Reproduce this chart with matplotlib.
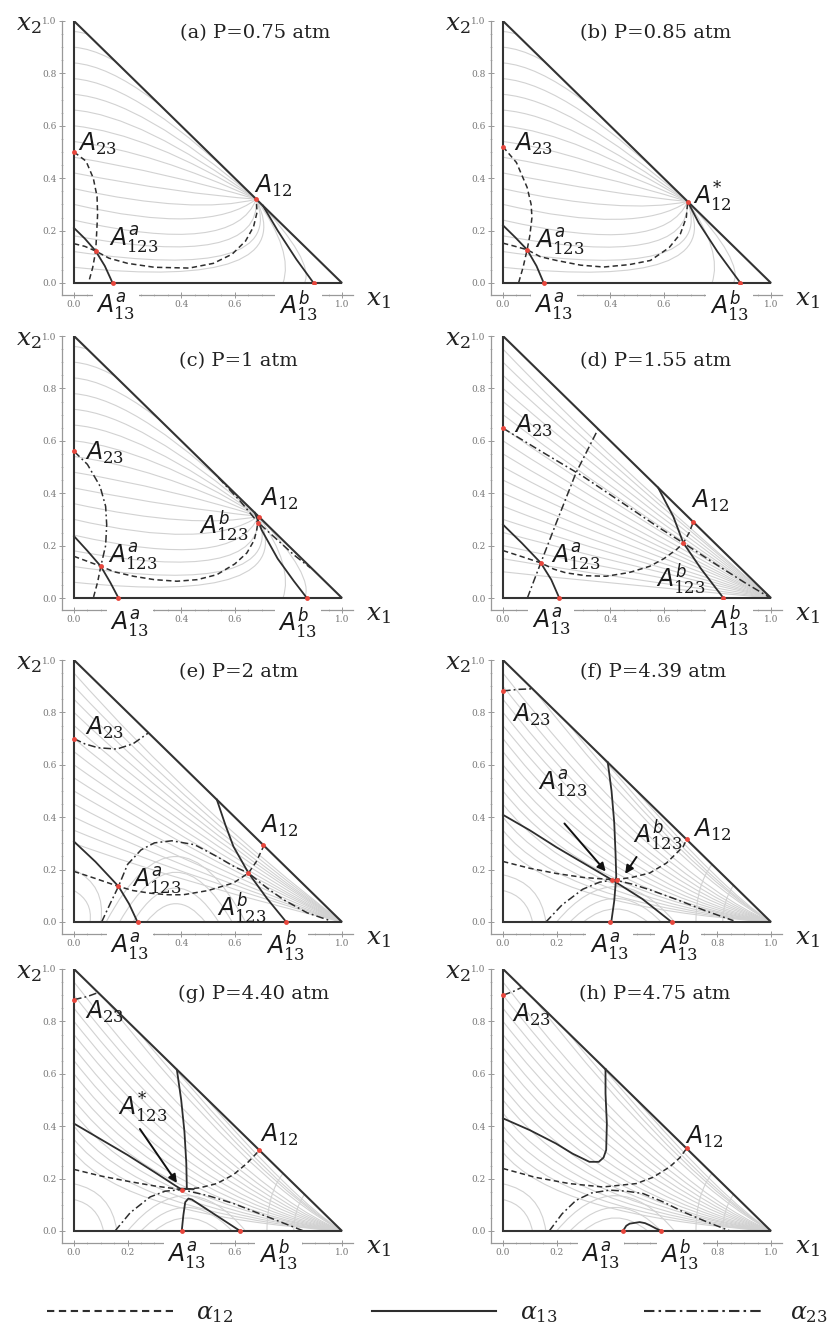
import numpy as np
import matplotlib
matplotlib.use("Agg")
import matplotlib.pyplot as plt
from matplotlib.path import Path
from matplotlib.patches import PathPatch, Polygon
from matplotlib.ticker import MultipleLocator

plt.rcParams['mathtext.fontset'] = 'custom'
plt.rcParams['mathtext.it'] = 'DejaVu Sans:italic'
plt.rcParams['mathtext.rm'] = 'DejaVu Serif'

# ---- label strings ----
A23 = r'$A_{23}$'
A12 = r'$A_{12}$'
A12s = r'$A_{12}^{*}$'
A123a = r'$A_{123}^{a}$'
A123b = r'$A_{123}^{b}$'
A123s = r'$A_{123}^{*}$'
A13a = r'$A_{13}^{a}$'
A13b = r'$A_{13}^{b}$'

titles = ['(a) P=0.75 atm', '(b) P=0.85 atm', '(c) P=1 atm', '(d) P=1.55 atm',
          '(e) P=2 atm', '(f) P=4.39 atm', '(g) P=4.40 atm', '(h) P=4.75 atm']
title_pos = [(0.675, 0.955), (0.571, 0.955), (0.614, 0.904), (0.570, 0.904),
             (0.614, 0.955), (0.560, 0.955), (0.672, 0.905), (0.567, 0.904)]
# x tick labels left visible (others sit under the A13 labels)
xtick_shown = [[0.0, 0.4, 0.6, 1.0]] * 5 + [[0.0, 0.2, 0.8, 1.0], [0.0, 0.2, 0.6, 1.0], [0.0, 0.2, 0.8, 1.0]]

# ---- (a) P=0.75 ----
dash_a = [[(0, 0.50), (0.045, 0.465), (0.072, 0.40), (0.086, 0.33), (0.088, 0.26), (0.085, 0.20),
           (0.081, 0.122), (0.07, 0.06), (0.054, 0.0)],
          [(0, 0.15), (0.04, 0.14), (0.081, 0.122), (0.13, 0.095), (0.2, 0.075), (0.3, 0.06),
           (0.43, 0.057), (0.52, 0.075), (0.59, 0.11), (0.64, 0.16), (0.67, 0.215), (0.683, 0.27), (0.68, 0.32)]]
solid_a = [[(0, 0.21), (0.04, 0.17), (0.081, 0.122), (0.115, 0.065), (0.144, 0.0)],
           [(0.705, 0.295), (0.76, 0.2), (0.83, 0.09), (0.894, 0.0)]]
dashdot_a = []
pts_a = [(0, 0.50), (0.68, 0.32), (0.081, 0.122), (0.144, 0), (0.894, 0)]
labels_a = [(A23, 0.015, 0.53, 'left'), (A12, 0.67, 0.37, 'left'), (A123a, 0.13, 0.165, 'left')]
axlab_a = [(A13a, 0.156, -0.09), (A13b, 0.838, -0.09)]

# ---- (b) P=0.85 ----
dash_b = [[(0, 0.52), (0.05, 0.46), (0.09, 0.365), (0.105, 0.30), (0.108, 0.25), (0.1, 0.18),
           (0.09, 0.127), (0.075, 0.06), (0.058, 0.0)],
          [(0, 0.152), (0.045, 0.14), (0.09, 0.127), (0.14, 0.10), (0.2, 0.086), (0.29, 0.068),
           (0.376, 0.061), (0.47, 0.07), (0.55, 0.086), (0.62, 0.135), (0.662, 0.188), (0.684, 0.25), (0.689, 0.311)]]
solid_b = [[(0, 0.22), (0.045, 0.175), (0.09, 0.127), (0.125, 0.065), (0.152, 0.0)],
           [(0.689, 0.311), (0.73, 0.23), (0.80, 0.12), (0.886, 0.0)]]
dashdot_b = []
pts_b = [(0, 0.52), (0.689, 0.311), (0.09, 0.127), (0.152, 0), (0.886, 0)]
labels_b = [(A23, 0.04, 0.53, 'left'), (A12s, 0.71, 0.33, 'left'), (A123a, 0.12, 0.16, 'left')]
axlab_b = [(A13a, 0.189, -0.09), (A13b, 0.845, -0.09)]

# ---- (c) P=1 ----
dash_c = [[(0.10, 0.121), (0.088, 0.06), (0.072, 0.0)],
          [(0, 0.159), (0.05, 0.14), (0.10, 0.121), (0.15, 0.10), (0.222, 0.083), (0.30, 0.07),
           (0.384, 0.064), (0.46, 0.07), (0.533, 0.089), (0.6, 0.13), (0.645, 0.172), (0.672, 0.22),
           (0.682, 0.261), (0.689, 0.312)]]
solid_c = [[(0, 0.236), (0.05, 0.18), (0.10, 0.121), (0.135, 0.06), (0.166, 0.0)],
           [(0.675, 0.325), (0.70, 0.26), (0.76, 0.15), (0.82, 0.065), (0.869, 0.0)]]
dashdot_c = [[(0, 0.56), (0.05, 0.51), (0.097, 0.427), (0.118, 0.35), (0.122, 0.28), (0.118, 0.20), (0.10, 0.121)],
             [(0.539, 0.459), (0.62, 0.37), (0.685, 0.29), (0.75, 0.23), (0.82, 0.165), (0.882, 0.115)]]
pts_c = [(0, 0.56), (0.689, 0.311), (0.685, 0.285), (0.10, 0.121), (0.166, 0), (0.869, 0)]
labels_c = [(A23, 0.04, 0.554, 'left'), (A12, 0.695, 0.38, 'left'), (A123b, 0.651, 0.274, 'right'),
            (A123a, 0.128, 0.16, 'left')]
axlab_c = [(A13a, 0.209, -0.096), (A13b, 0.836, -0.096)]

# ---- (d) P=1.55 ----
dash_d = [[(0, 0.181), (0.07, 0.158), (0.141, 0.134), (0.19, 0.11), (0.235, 0.096), (0.31, 0.085),
           (0.385, 0.083), (0.47, 0.097), (0.5475, 0.121), (0.6, 0.15), (0.6475, 0.185), (0.673, 0.21),
           (0.695, 0.25), (0.71, 0.29)]]
solid_d = [[(0, 0.28), (0.07, 0.21), (0.141, 0.134), (0.18, 0.07), (0.21, 0.0)],
           [(0.579, 0.421), (0.61, 0.36), (0.635, 0.312), (0.673, 0.21), (0.74, 0.11), (0.8225, 0.0)]]
dashdot_d = [[(0, 0.648), (0.15, 0.555), (0.2975, 0.465), (0.45, 0.36), (0.58, 0.27), (0.673, 0.21),
              (0.8, 0.125), (0.9, 0.06), (0.99, 0.005)],
             [(0.091, 0), (0.115, 0.065), (0.141, 0.134), (0.2, 0.29), (0.2725, 0.478), (0.354, 0.643)]]
pts_d = [(0, 0.648), (0.71, 0.29), (0.673, 0.21), (0.141, 0.134), (0.21, 0), (0.8225, 0)]
labels_d = [(A23, 0.041, 0.656, 'left'), (A12, 0.70, 0.37, 'left'), (A123b, 0.57, 0.07, 'left'),
            (A123a, 0.18, 0.16, 'left')]
axlab_d = [(A13a, 0.18, -0.09), (A13b, 0.845, -0.09)]

# ---- (e) P=2 ----
dash_e = [[(0, 0.193), (0.08, 0.166), (0.166, 0.136), (0.22, 0.12), (0.284, 0.11), (0.35, 0.104),
           (0.408, 0.104), (0.5, 0.12), (0.595, 0.149), (0.651, 0.187), (0.68, 0.23), (0.707, 0.288)]]
solid_e = [[(0, 0.307), (0.08, 0.23), (0.166, 0.136), (0.205, 0.07), (0.237, 0.0)],
           [(0.533, 0.467), (0.565, 0.37), (0.595, 0.288), (0.651, 0.187), (0.72, 0.09), (0.792, 0.0)]]
dashdot_e = [[(0, 0.70), (0.04, 0.68), (0.09, 0.665), (0.16, 0.66), (0.22, 0.68), (0.278, 0.722)],
             [(0.103, 0), (0.135, 0.07), (0.166, 0.136), (0.2, 0.22), (0.25, 0.275), (0.3, 0.302),
              (0.365, 0.31), (0.45, 0.295), (0.533, 0.25), (0.6, 0.21), (0.651, 0.187), (0.72, 0.13),
              (0.782, 0.085), (0.87, 0.035), (0.956, 0.005)]]
pts_e = [(0, 0.70), (0.707, 0.293), (0.651, 0.187), (0.166, 0.136), (0.237, 0), (0.792, 0)]
labels_e = [(A23, 0.041, 0.74, 'left'), (A12, 0.695, 0.365, 'left'), (A123b, 0.533, 0.053, 'left'),
            (A123a, 0.215, 0.16, 'left')]
axlab_e = [(A13a, 0.209, -0.093), (A13b, 0.788, -0.093)]

# ---- (f) P=4.39 ----
dash_f = [[(0, 0.231), (0.1, 0.205), (0.2, 0.185), (0.3, 0.17), (0.416, 0.161), (0.48, 0.17),
           (0.5475, 0.187), (0.61, 0.225), (0.6725, 0.288), (0.685, 0.315)]]
solid_f = [[(0, 0.409), (0.1, 0.35), (0.2, 0.285), (0.3, 0.225), (0.416, 0.155), (0.52, 0.088), (0.629, 0.0)],
           [(0.391, 0.609), (0.405, 0.5), (0.415, 0.38), (0.42, 0.26), (0.4225, 0.174), (0.415, 0.08), (0.404, 0.0)]]
dashdot_f = [[(0, 0.882), (0.06, 0.888), (0.11, 0.89)],
             [(0.16, 0), (0.22, 0.065), (0.2975, 0.125), (0.36, 0.152), (0.416, 0.161), (0.48, 0.145),
              (0.5475, 0.123), (0.65, 0.085), (0.75, 0.045), (0.86, 0.005)]]
pts_f = [(0, 0.882), (0.685, 0.315), (0.408, 0.161), (0.425, 0.161), (0.40, 0), (0.629, 0)]
labels_f = [(A23, 0.035, 0.79, 'left'), (A12, 0.71, 0.352, 'left'), (A123a, 0.13, 0.53, 'left'),
            (A123b, 0.485, 0.33, 'left')]
axlab_f = [(A13a, 0.3975, -0.093), (A13b, 0.654, -0.093)]
arrows_f = [((0.2225, 0.384), (0.39, 0.185)), ((0.504, 0.257), (0.45, 0.175))]

# ---- (g) P=4.40 ----
dash_g = [[(0, 0.235), (0.1, 0.21), (0.2, 0.19), (0.3, 0.172), (0.402, 0.158), (0.47, 0.165),
           (0.533, 0.181), (0.595, 0.215), (0.645, 0.258), (0.689, 0.305)]]
solid_g = [[(0, 0.41), (0.1, 0.35), (0.2, 0.29), (0.3, 0.225), (0.38, 0.172), (0.396, 0.162), (0.446, 0.16)],
           [(0.384, 0.615), (0.40, 0.5), (0.412, 0.38), (0.419, 0.26), (0.421, 0.165)],
           [(0.402, 0), (0.408, 0.06), (0.415, 0.11), (0.427, 0.124), (0.44, 0.12), (0.53, 0.06), (0.62, 0.0)]]
dashdot_g = [[(0, 0.883), (0.05, 0.895), (0.09, 0.91)],
             [(0.153, 0), (0.21, 0.07), (0.284, 0.13), (0.34, 0.152), (0.402, 0.158), (0.5, 0.135),
              (0.595, 0.105), (0.72, 0.055), (0.857, 0.0)]]
pts_g = [(0, 0.883), (0.689, 0.311), (0.402, 0.158), (0.402, 0), (0.62, 0)]
labels_g = [(A23, 0.041, 0.838, 'left'), (A12, 0.695, 0.366, 'left'), (A123s, 0.165, 0.47, 'left')]
axlab_g = [(A13a, 0.421, -0.093), (A13b, 0.763, -0.093)]
arrows_g = [((0.24, 0.398), (0.39, 0.175))]

# ---- (h) P=4.75 ----
dash_h = [[(0, 0.2385), (0.12, 0.205), (0.2475, 0.181), (0.3725, 0.168), (0.4975, 0.181), (0.56, 0.205),
           (0.6225, 0.245), (0.66, 0.28), (0.685, 0.315)]]
solid_h = [[(0, 0.43), (0.1, 0.385), (0.1975, 0.334), (0.26, 0.295), (0.3225, 0.264), (0.3575, 0.264),
            (0.375, 0.28), (0.385, 0.309), (0.3875, 0.41), (0.3825, 0.525), (0.3825, 0.618)],
           [(0.4475, 0), (0.46, 0.02), (0.4725, 0.028), (0.51, 0.034), (0.53, 0.03), (0.5475, 0.022),
            (0.57, 0.01), (0.591, 0)]]
dashdot_h = [[(0, 0.90), (0.04, 0.915), (0.07, 0.93)],
             [(0.1725, 0), (0.22, 0.065), (0.2725, 0.117), (0.33, 0.145), (0.3975, 0.156), (0.46, 0.152),
              (0.5225, 0.143), (0.6, 0.11), (0.6725, 0.073), (0.76, 0.035), (0.8475, 0.0)]]
pts_h = [(0, 0.90), (0.685, 0.315), (0.4475, 0), (0.591, 0)]
labels_h = [(A23, 0.035, 0.825, 'left'), (A12, 0.68, 0.36, 'left')]
axlab_h = [(A13a, 0.366, -0.093), (A13b, 0.66, -0.093)]

# ---- grey residue curves: (x0, y0, ctrl_x, ctrl_y) ending at a node ----
gray_abc = [(0, 0.96, 0.25, 0.94), (0, 0.90, 0.25, 0.88), (0, 0.84, 0.25, 0.82), (0, 0.78, 0.25, 0.76),
            (0, 0.72, 0.25, 0.70), (0, 0.66, 0.25, 0.64), (0, 0.60, 0.28, 0.57), (0, 0.54, 0.30, 0.50),
            (0, 0.48, 0.35, 0.42), (0, 0.42, 0.40, 0.34), (0, 0.36, 0.45, 0.26), (0, 0.30, 0.50, 0.18),
            (0, 0.24, 0.60, 0.10), (0, 0.18, 0.70, 0.05), (0, 0.12, 0.80, 0.0), (0, 0.06, 0.85, -0.03),
            (0.78, 0, 0.82, 0.12), (0.86, 0, 0.90, 0.08)]
gray_d = [(0, 0.95, 0.4, 0.52), (0, 0.90, 0.4, 0.50), (0, 0.85, 0.4, 0.47), (0, 0.80, 0.4, 0.44),
          (0, 0.75, 0.4, 0.41), (0, 0.70, 0.4, 0.385), (0, 0.65, 0.4, 0.36), (0, 0.60, 0.4, 0.33),
          (0, 0.55, 0.4, 0.30), (0, 0.50, 0.4, 0.275), (0, 0.45, 0.4, 0.25), (0, 0.40, 0.4, 0.22),
          (0, 0.35, 0.4, 0.19), (0, 0.30, 0.4, 0.165), (0, 0.25, 0.4, 0.14), (0, 0.20, 0.4, 0.11),
          (0, 0.15, 0.4, 0.08), (0, 0.10, 0.4, 0.055)]
gray_e = [(0, 0.95, 0.45, 0.43), (0, 0.90, 0.45, 0.405), (0, 0.85, 0.45, 0.38), (0, 0.80, 0.45, 0.36),
          (0, 0.75, 0.45, 0.34), (0, 0.70, 0.45, 0.315), (0, 0.65, 0.45, 0.29), (0, 0.60, 0.45, 0.27),
          (0, 0.55, 0.45, 0.25), (0, 0.50, 0.45, 0.225), (0, 0.45, 0.45, 0.20), (0, 0.40, 0.45, 0.18),
          (0, 0.35, 0.45, 0.16), (0, 0.30, 0.45, 0.135)]
gray_fgh = [(0, 0.95, 0.59, 0.18), (0, 0.90, 0.56, 0.17), (0, 0.85, 0.53, 0.16), (0, 0.80, 0.50, 0.15),
            (0, 0.75, 0.47, 0.14), (0, 0.70, 0.43, 0.13), (0, 0.65, 0.40, 0.12), (0, 0.60, 0.37, 0.11),
            (0, 0.55, 0.34, 0.10), (0, 0.50, 0.31, 0.095), (0, 0.45, 0.28, 0.085), (0, 0.40, 0.25, 0.076),
            (0, 0.35, 0.22, 0.067), (0, 0.30, 0.19, 0.057), (0.12, 0.88, 0.64, 0.2), (0.24, 0.76, 0.70, 0.18),
            (0.36, 0.64, 0.76, 0.15), (0.48, 0.52, 0.82, 0.12)]
gray_end = [(0.68, 0.32), (0.689, 0.311), (0.689, 0.312), (1, 0), (1, 0), (1, 0), (1, 0), (1, 0)]
# arcs: (x0, y0, ctrl_x, ctrl_y, x1, y1)
arcs_e = [(0.12, 0, 0.38, 0.5, 0.64, 0), (0.17, 0, 0.38, 0.38, 0.59, 0), (0.22, 0, 0.38, 0.26, 0.54, 0),
          (0.27, 0, 0.38, 0.14, 0.49, 0), (0, 0.2, 0.12, 0.14, 0.1, 0), (0, 0.12, 0.07, 0.08, 0.06, 0)]
arcs_fgh = [(0.2, 0, 0.42, 0.27, 0.64, 0), (0.25, 0, 0.42, 0.18, 0.59, 0), (0.3, 0, 0.42, 0.1, 0.54, 0),
            (0, 0.18, 0.14, 0.15, 0.16, 0), (0, 0.12, 0.09, 0.1, 0.11, 0),
            (0.72, 0, 0.72, 0.14, 0.78, 0.22), (0.82, 0, 0.82, 0.08, 0.86, 0.14)]

panels = [
    dict(dash=dash_a, solid=solid_a, dd=dashdot_a, pts=pts_a, lab=labels_a, axlab=axlab_a, gray=gray_abc, arcs=[], arrows=[]),
    dict(dash=dash_b, solid=solid_b, dd=dashdot_b, pts=pts_b, lab=labels_b, axlab=axlab_b, gray=gray_abc, arcs=[], arrows=[]),
    dict(dash=dash_c, solid=solid_c, dd=dashdot_c, pts=pts_c, lab=labels_c, axlab=axlab_c, gray=gray_abc, arcs=[], arrows=[]),
    dict(dash=dash_d, solid=solid_d, dd=dashdot_d, pts=pts_d, lab=labels_d, axlab=axlab_d, gray=gray_d, arcs=[], arrows=[]),
    dict(dash=dash_e, solid=solid_e, dd=dashdot_e, pts=pts_e, lab=labels_e, axlab=axlab_e, gray=gray_e, arcs=arcs_e, arrows=[]),
    dict(dash=dash_f, solid=solid_f, dd=dashdot_f, pts=pts_f, lab=labels_f, axlab=axlab_f, gray=gray_fgh, arcs=arcs_fgh, arrows=arrows_f),
    dict(dash=dash_g, solid=solid_g, dd=dashdot_g, pts=pts_g, lab=labels_g, axlab=axlab_g, gray=gray_fgh, arcs=arcs_fgh, arrows=arrows_g),
    dict(dash=dash_h, solid=solid_h, dd=dashdot_h, pts=pts_h, lab=labels_h, axlab=axlab_h, gray=gray_fgh, arcs=arcs_fgh, arrows=[]),
]

LINE = '#2e2e2e'
DASH = (0, (3.5, 2.2))
DASHDOT = (0, (5, 2, 1.2, 2))

fig = plt.figure(figsize=(8.36, 13.28), dpi=100)
W, H = 836, 1328
col_x0 = [74, 503]
row_y0 = [283, 598, 922, 1231]
sx, sy = 268, 262

for i, p in enumerate(panels):
    r, c = divmod(i, 2)
    left = (col_x0[c] - 0.045 * sx) / W
    bottom = 1 - (row_y0[r] + 0.045 * sy) / H
    ax = fig.add_axes([left, bottom, 1.085 * sx / W, 1.045 * sy / H])
    ax.set_xlim(-0.045, 1.04)
    ax.set_ylim(-0.045, 1.0)

    clip = Polygon([(0, 0), (1, 0), (0, 1)], closed=True, transform=ax.transData)
    ex, ey = gray_end[i]
    for x0, y0, cx, cy in p['gray']:
        pp = PathPatch(Path([(x0, y0), (cx, cy), (ex, ey)], [Path.MOVETO, Path.CURVE3, Path.CURVE3]),
                       fc='none', ec='#d2d2d2', lw=0.8, zorder=1)
        ax.add_patch(pp)
        pp.set_clip_path(clip)
    for x0, y0, cx, cy, x1, y1 in p['arcs']:
        pp = PathPatch(Path([(x0, y0), (cx, cy), (x1, y1)], [Path.MOVETO, Path.CURVE3, Path.CURVE3]),
                       fc='none', ec='#d2d2d2', lw=0.8, zorder=1)
        ax.add_patch(pp)
        pp.set_clip_path(clip)

    ax.add_patch(Polygon([(0, 0), (1, 0), (0, 1)], closed=True, fill=False, ec='#333333', lw=1.5, zorder=4))

    for cur in p['dash']:
        xs, ys = zip(*cur)
        ax.plot(xs, ys, ls=DASH, color=LINE, lw=1.1, zorder=3)
    for cur in p['dd']:
        xs, ys = zip(*cur)
        ax.plot(xs, ys, ls=DASHDOT, color=LINE, lw=1.1, zorder=3)
    for cur in p['solid']:
        xs, ys = zip(*cur)
        ax.plot(xs, ys, '-', color=LINE, lw=1.3, zorder=3, solid_joinstyle='round')

    px, py = zip(*p['pts'])
    ax.plot(px, py, 'o', color='#e8463c', ms=3.5, mec='none', zorder=6, clip_on=False)

    for txt, x, y, ha in p['lab']:
        ax.text(x, y, txt, ha=ha, va='center', fontsize=17, color='#1a1a1a', zorder=7)
    for txt, x, y in p['axlab']:
        ax.text(x, y, txt, ha='center', va='center', fontsize=17, color='#1a1a1a', zorder=7, clip_on=False,
                bbox=dict(boxstyle='square,pad=0.15', fc='white', ec='none'))
    for (x0, y0), (x1, y1) in p['arrows']:
        ax.annotate('', xy=(x1, y1), xytext=(x0, y0),
                    arrowprops=dict(arrowstyle='-|>', color='#111111', lw=1.4, mutation_scale=12), zorder=7)

    tx, ty = title_pos[i]
    ax.text(tx, ty, titles[i], ha='center', va='center', fontsize=14, family='DejaVu Serif', color='#222222')
    ax.text(1.09, -0.06, r'$x_1$', ha='left', va='center', fontsize=18, math_fontfamily='dejavuserif',
            color='#222222', clip_on=False)
    ax.text(-0.12, 0.99, r'$x_2$', ha='right', va='center', fontsize=18, math_fontfamily='dejavuserif',
            color='#222222', clip_on=False)

    for s in ['top', 'right']:
        ax.spines[s].set_visible(False)
    for s in ['left', 'bottom']:
        ax.spines[s].set_color('#999999')
        ax.spines[s].set_linewidth(0.9)
    ticks = np.arange(0, 1.01, 0.2)
    ax.set_xticks(ticks)
    ax.set_yticks(ticks)
    shown = xtick_shown[i]
    ax.set_xticklabels(['%.1f' % t if any(abs(t - s) < 1e-6 for s in shown) else '' for t in ticks],
                       fontfamily='DejaVu Serif')
    ax.set_yticklabels(['%.1f' % t for t in ticks], fontfamily='DejaVu Serif')
    ax.xaxis.set_minor_locator(MultipleLocator(0.05))
    ax.yaxis.set_minor_locator(MultipleLocator(0.05))
    ax.tick_params(which='major', direction='inout', length=4, width=0.7, color='#999999',
                   labelsize=6.5, labelcolor='#777777', pad=2)
    ax.tick_params(which='minor', direction='inout', length=2, width=0.5, color='#aaaaaa')
    ax.patch.set_alpha(0)

# legend row
lax = fig.add_axes([0, 0, 1, 0.05])
lax.set_xlim(0, W)
lax.set_ylim(0, 0.05 * H)
lax.axis('off')
ly = H - 1311
lax.plot([47, 173], [ly, ly], ls=DASH, color=LINE, lw=1.5)
lax.plot([372, 496], [ly, ly], '-', color=LINE, lw=1.5)
lax.plot([644, 764], [ly, ly], ls=DASHDOT, color=LINE, lw=1.5)
for x, s in [(196, r'$\alpha_{12}$'), (520, r'$\alpha_{13}$'), (790, r'$\alpha_{23}$')]:
    lax.text(x, ly - 2, s, ha='left', va='center', fontsize=17, math_fontfamily='dejavuserif', color='#222222')

fig.savefig('out.png', dpi=100)
